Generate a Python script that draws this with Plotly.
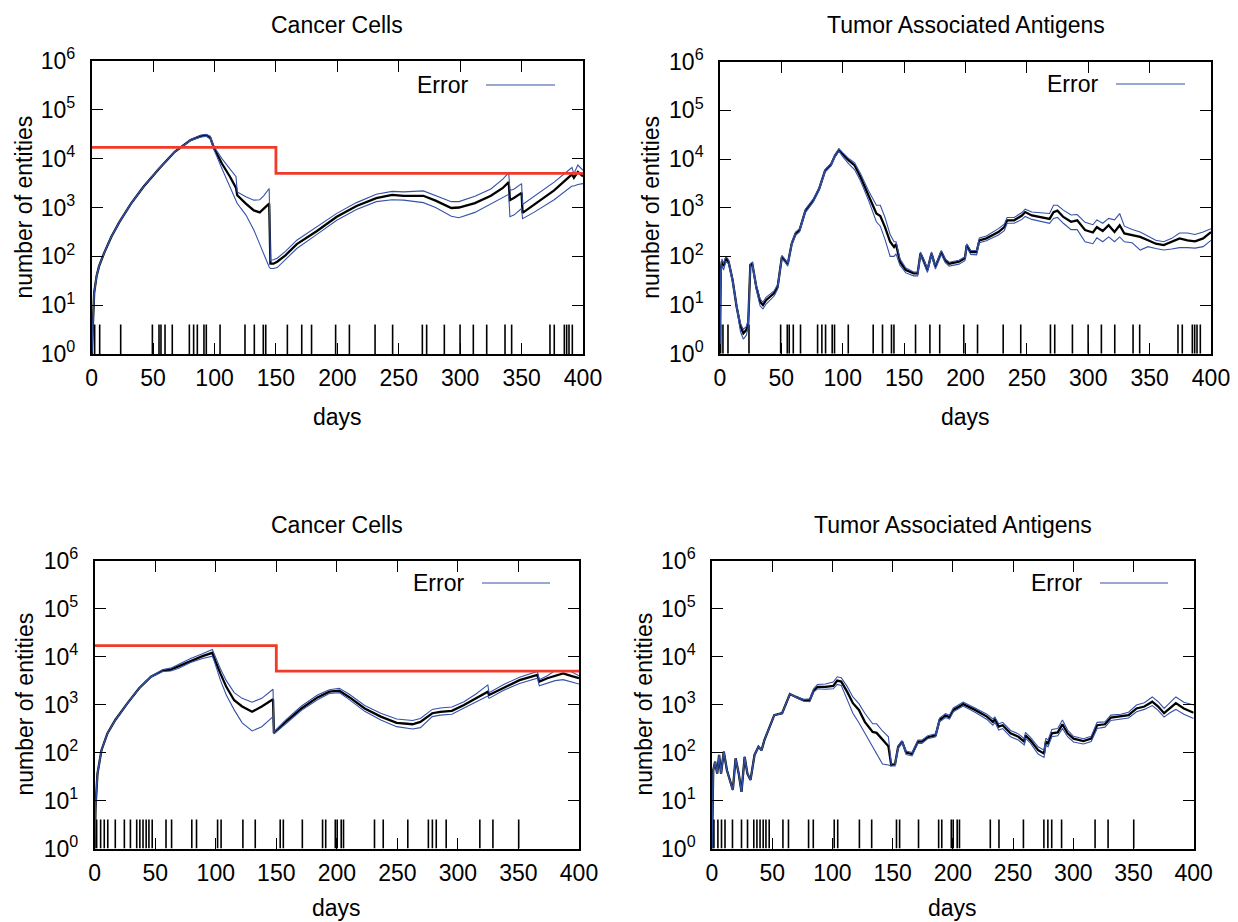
import plotly.graph_objects as go

W, H = 1238, 922
FONT = "Liberation Sans, Arial, sans-serif"
BLUE = "#3452a8"
RED = "#f03a2a"
BLACK = "#000000"

# ---------------- data (log10 of number of entities) ----------------
# Panel 1: Cancer Cells (top)
cc1_days = [0, 1, 2, 4, 6, 10, 16, 22.5, 32, 42, 55, 67.6, 80.5, 88.5, 93.3, 96.5, 99.8, 106, 112.6, 117.5,
            118.5, 125.5, 132, 136.8, 140, 144.5, 145.5, 148, 151, 157.7, 167, 183.4, 199.5, 215.6, 231.7,
            244.6, 254, 270, 280, 292.8, 299, 312, 325, 334.7, 339.5, 340.5, 344, 350, 350.8, 360, 376.5,
            391, 392.6, 395.8, 400]
cc1_mean = [0.0, 0.8, 1.25, 1.6, 1.8, 2.06, 2.4, 2.7, 3.08, 3.42, 3.8, 4.14, 4.38, 4.46, 4.48, 4.43, 4.2, 3.9,
            3.63, 3.4, 3.25, 3.08, 2.94, 2.9, 2.98, 3.08, 1.85, 1.85, 1.89, 2.02, 2.25, 2.52, 2.81, 3.03, 3.19,
            3.26, 3.24, 3.24, 3.14, 2.99, 3.0, 3.09, 3.24, 3.4, 3.52, 3.15, 3.2, 3.3, 2.89, 3.05, 3.35, 3.68,
            3.61, 3.73, 3.64]
cc1_upper = [0.0, 0.8, 1.25, 1.6, 1.8, 2.06, 2.4, 2.7, 3.08, 3.42, 3.8, 4.14, 4.39, 4.48, 4.5, 4.46, 4.24, 4.0,
             3.8, 3.63, 3.32, 3.22, 3.15, 3.16, 3.24, 3.39, 1.92, 1.93, 1.96, 2.1, 2.33, 2.6, 2.88, 3.1, 3.27,
             3.33, 3.32, 3.34, 3.25, 3.12, 3.12, 3.23, 3.38, 3.58, 3.71, 3.35, 3.38, 3.49, 3.06, 3.22, 3.52,
             3.82, 3.69, 3.87, 3.76]
cc1_lower = [0.0, 0.8, 1.25, 1.6, 1.8, 2.06, 2.4, 2.7, 3.08, 3.42, 3.8, 4.14, 4.37, 4.44, 4.46, 4.4, 4.17, 3.8,
             3.42, 3.15, 3.08, 2.85, 2.54, 2.25, 2.05, 1.78, 1.75, 1.75, 1.77, 1.93, 2.16, 2.45, 2.74, 2.96,
             3.12, 3.16, 3.15, 3.1, 3.0, 2.82, 2.79, 2.9, 3.07, 3.2, 3.27, 2.81, 2.85, 2.98, 2.77, 2.9, 3.16,
             3.44, 3.44, 3.47, 3.49]

# Panel 2: Tumor Associated Antigens (top)
taa1_days = [0, 0.6, 1.6, 2.9, 4.8, 7, 10.3, 13.5, 16.7, 19, 21.5, 23, 24.7, 26.3, 29.5, 32.7, 35, 37.5, 44,
             47, 50.4, 53, 55.2, 58.4, 61.6, 64.8, 69.6, 76, 80.8, 85.6, 90.5, 93.7, 96.9, 100, 104.9, 109.7,
             114.5, 121, 127.4, 130.6, 134.4, 138.6, 141.8, 143.4, 146.6, 151.4, 157.8, 161, 163.3, 165.8,
             169, 172.3, 175.5, 180.3, 183.5, 186.7, 194.7, 199.5, 201, 204.3, 209, 211.3, 217, 226.8, 231.6,
             233.9, 239.6, 246, 248.6, 254, 262, 268.5, 271.7, 274.9, 279.7, 286, 291, 297.4, 303.8, 307,
             311.8, 316.6, 321.4, 325.6, 329.4, 335.8, 342.3, 348.7, 355, 361.5, 368, 374.4, 380.8, 387,
             393.6, 400]
taa1_mean = [0.2, 1.72, 1.9, 1.8, 1.96, 1.89, 1.51, 0.97, 0.56, 0.42,
             0.49, 0.63, 1.82, 1.85, 1.38, 1.07, 1.0, 1.1, 1.24, 1.38,
             1.99, 1.92, 1.84, 2.26, 2.47, 2.54, 2.94, 3.15, 3.39, 3.76,
             3.89, 4.07, 4.19, 4.1, 3.97, 3.87, 3.63, 3.25, 2.88, 2.83,
             2.6, 2.3, 2.19, 2.25, 1.89, 1.72, 1.65, 1.65, 2.06, 1.92,
             1.72, 2.06, 1.79, 2.09, 1.92, 1.85, 1.89, 1.96, 2.23, 2.09,
             2.09, 2.33, 2.37, 2.5, 2.6, 2.74, 2.74, 2.84, 2.91, 2.84,
             2.81, 2.77, 2.91, 2.94, 2.81, 2.71, 2.74, 2.54, 2.49, 2.6,
             2.52, 2.64, 2.5, 2.64, 2.47, 2.43, 2.4, 2.33, 2.26, 2.23,
             2.3, 2.37, 2.33, 2.31, 2.37, 2.5]
taa1_upper = [0.2, 1.75, 1.95, 1.85, 2.0, 1.93, 1.55, 1.02, 0.62, 0.5,
              0.56, 0.7, 1.85, 1.88, 1.43, 1.12, 1.06, 1.16, 1.29, 1.42,
              2.02, 1.95, 1.87, 2.29, 2.5, 2.57, 2.97, 3.18, 3.42, 3.78,
              3.91, 4.09, 4.21, 4.13, 4.01, 3.92, 3.7, 3.35, 3.05, 3.05,
              2.8, 2.45, 2.3, 2.3, 1.95, 1.76, 1.68, 1.68, 2.09, 1.95,
              1.75, 2.09, 1.82, 2.12, 1.95, 1.88, 1.92, 1.99, 2.26, 2.12,
              2.12, 2.38, 2.42, 2.57, 2.66, 2.8, 2.8, 2.9, 2.97, 2.91,
              2.9, 2.88, 3.05, 3.05, 2.95, 2.85, 2.86, 2.7, 2.65, 2.75,
              2.68, 2.78, 2.75, 2.88, 2.62, 2.55, 2.5, 2.42, 2.33, 2.3,
              2.37, 2.48, 2.48, 2.45, 2.5, 2.57]
taa1_lower = [0.2, 1.6, 1.82, 1.72, 1.9, 1.84, 1.45, 0.9, 0.45, 0.3,
              0.38, 0.55, 1.78, 1.8, 1.32, 0.98, 0.92, 1.02, 1.18, 1.33,
              1.95, 1.88, 1.8, 2.22, 2.43, 2.5, 2.9, 3.12, 3.36, 3.73,
              3.86, 4.04, 4.16, 4.05, 3.9, 3.78, 3.55, 3.15, 2.71, 2.62,
              2.35, 2.0, 2.0, 2.05, 1.82, 1.66, 1.6, 1.6, 2.02, 1.87,
              1.67, 2.01, 1.74, 2.04, 1.87, 1.8, 1.84, 1.91, 2.18, 2.04,
              2.03, 2.28, 2.32, 2.44, 2.53, 2.68, 2.68, 2.76, 2.82, 2.76,
              2.72, 2.68, 2.78, 2.8, 2.68, 2.55, 2.55, 2.3, 2.26, 2.38,
              2.3, 2.4, 2.3, 2.4, 2.3, 2.28, 2.13, 2.2, 2.16, 2.13,
              2.15, 2.18, 2.18, 2.17, 2.2, 2.33]

# Panel 3: Cancer Cells (bottom)
cc2_days = [0, 0.7, 2.3, 5.6, 10.5, 17, 26.8, 36.7, 46.5, 56.3, 62.8, 69.4, 79.2, 89, 97.2, 98.8, 103.8, 108.7,
            115.2, 121.8, 130, 138, 147.3, 148, 157.8, 170.8, 184, 193.8, 202, 210, 223, 236.3, 249.4, 262.5,
            269, 278.8, 285.4, 295, 305, 314.9, 324.7, 325.7, 337.8, 350.9, 365.6, 367.2, 373.8, 380.3, 386.9,
            393.4, 400]
cc2_mean = [0.0, 0.87, 1.56, 2.05, 2.4, 2.68, 3.02, 3.34, 3.58, 3.71,
            3.73, 3.8, 3.92, 4.01, 4.08, 3.96, 3.65, 3.37, 3.09, 2.96,
            2.85, 2.96, 3.11, 2.41, 2.64, 2.92, 3.15, 3.27, 3.29, 3.16,
            2.92, 2.75, 2.62, 2.59, 2.64, 2.82, 2.85, 2.87, 2.99, 3.13,
            3.27, 3.2, 3.35, 3.51, 3.62, 3.48, 3.55, 3.6, 3.65, 3.6, 3.55]
cc2_upper = [0.0, 0.87, 1.56, 2.05, 2.4, 2.68, 3.02, 3.34, 3.59, 3.73,
             3.76, 3.84, 3.96, 4.06, 4.15, 4.05, 3.75, 3.5, 3.25, 3.13,
             3.05, 3.13, 3.32, 2.43, 2.68, 2.97, 3.2, 3.31, 3.34, 3.22,
             2.98, 2.82, 2.7, 2.67, 2.71, 2.9, 2.93, 2.95, 3.06, 3.22,
             3.41, 3.25, 3.42, 3.57, 3.69, 3.52, 3.6, 3.71, 3.7, 3.69, 3.6]
cc2_lower = [0.0, 0.87, 1.56, 2.05, 2.4, 2.68, 3.02, 3.34, 3.57, 3.69,
             3.7, 3.76, 3.88, 3.96, 4.01, 3.9, 3.51, 3.2, 2.89, 2.62,
             2.45, 2.54, 2.75, 2.39, 2.6, 2.88, 3.1, 3.23, 3.25, 3.11,
             2.86, 2.68, 2.54, 2.49, 2.52, 2.75, 2.78, 2.8, 2.93, 3.05,
             3.18, 3.13, 3.3, 3.44, 3.55, 3.39, 3.45, 3.5, 3.52, 3.48, 3.43]

# Panel 4: Tumor Associated Antigens (bottom)
taa2_days = [0, 1, 2.6, 4.3, 5.9, 7.5, 9.8, 12.4, 17.3, 19.6, 22.2, 24.5, 27.1, 29.4, 32, 35.3, 38.6, 41.2,
             43.5, 46.8, 51.7, 58.2, 61.5, 64.7, 69.7, 76.2, 81.1, 84.4, 87.6, 94.2, 100.7, 104, 107.3, 112.2,
             117, 122, 126.9, 133.4, 136.7, 141.6, 146.5, 148.8, 152, 154.6, 157.9, 161.2, 166.1, 171, 174.3,
             179.2, 185.7, 189, 193.9, 197.2, 200.4, 205.4, 208.6, 218.4, 228.3, 233.2, 234.9, 238.1, 241.4,
             247.9, 254.4, 259.3, 260.3, 264.3, 270.8, 275.7, 277.3, 279, 282.2, 287.1, 291, 295.3, 300.2,
             308.4, 314.9, 319.8, 326.3, 331.2, 339.4, 345.9, 352.5, 359, 365.6, 370.5, 375.4, 380.3, 385.2,
             391.8, 400]
taa2_mean = [0.0, 1.63, 1.81, 1.56, 1.95, 1.56, 2.02, 1.63, 1.22, 1.88,
             1.56, 1.18, 1.91, 1.56, 1.43, 1.95, 2.12, 2.05, 2.26, 2.47,
             2.78, 2.82, 3.03, 3.22, 3.16, 3.09, 3.09, 3.29, 3.37, 3.37,
             3.39, 3.5, 3.48, 3.27, 3.03, 2.89, 2.64, 2.43, 2.41, 2.26,
             2.13, 1.74, 1.76, 2.12, 2.23, 2.0, 1.97, 2.23, 2.23, 2.32,
             2.36, 2.68, 2.77, 2.74, 2.89, 2.96, 3.01, 2.89, 2.75, 2.64,
             2.69, 2.54, 2.57, 2.4, 2.33, 2.23, 2.36, 2.26, 2.05, 1.98,
             2.23, 2.19, 2.4, 2.42, 2.59, 2.4, 2.29, 2.24, 2.29, 2.57,
             2.59, 2.73, 2.75, 2.78, 2.92, 2.96, 3.06, 2.96, 2.82, 2.92,
             3.03, 2.92, 2.83]
taa2_upper = [0.0, 1.63, 1.81, 1.56, 1.95, 1.56, 2.02, 1.63, 1.22, 1.88,
              1.56, 1.18, 1.91, 1.56, 1.43, 1.95, 2.12, 2.05, 2.26, 2.47,
              2.78, 2.82, 3.03, 3.22, 3.17, 3.11, 3.12, 3.33, 3.42, 3.43,
              3.47, 3.58, 3.56, 3.38, 3.16, 3.02, 2.82, 2.6, 2.6, 2.45,
              2.33, 1.76, 1.78, 2.14, 2.25, 2.03, 2.0, 2.26, 2.26, 2.35,
              2.39, 2.72, 2.81, 2.78, 2.93, 3.0, 3.05, 2.93, 2.8, 2.7,
              2.74, 2.6, 2.63, 2.46, 2.39, 2.29, 2.42, 2.32, 2.12, 2.05,
              2.3, 2.26, 2.48, 2.5, 2.68, 2.47, 2.34, 2.29, 2.34, 2.63,
              2.64, 2.78, 2.8, 2.84, 2.99, 3.04, 3.16, 3.06, 2.92, 3.04,
              3.16, 3.05, 2.99]
taa2_lower = [0.0, 1.63, 1.81, 1.56, 1.95, 1.56, 2.02, 1.63, 1.22, 1.88,
              1.56, 1.18, 1.91, 1.56, 1.43, 1.95, 2.12, 2.05, 2.26, 2.47,
              2.78, 2.82, 3.03, 3.22, 3.15, 3.07, 3.06, 3.26, 3.33, 3.32,
              3.33, 3.42, 3.4, 3.12, 2.82, 2.62, 2.4, 2.1, 1.95, 1.76,
              1.74, 1.72, 1.72, 2.08, 2.2, 1.96, 1.93, 2.19, 2.19, 2.29,
              2.33, 2.64, 2.73, 2.7, 2.85, 2.92, 2.97, 2.84, 2.69, 2.57,
              2.63, 2.47, 2.5, 2.33, 2.26, 2.16, 2.3, 2.2, 1.97, 1.9,
              2.16, 2.12, 2.33, 2.35, 2.5, 2.33, 2.22, 2.18, 2.23, 2.5,
              2.53, 2.67, 2.69, 2.72, 2.85, 2.9, 2.98, 2.88, 2.74, 2.83,
              2.9, 2.8, 2.71]

# Threshold (red step) for cancer-cell panels
thr_days = [0, 150, 400]
thr_vals = [17000, 5000, 5000]

# Vaccination days (impulses)
vacc_top = [0.5, 2.4, 6.5, 23.6, 49.4, 54.8, 56.4, 59.7, 65.6, 79.5, 83, 86, 91.4, 93.3, 104.5, 124.8, 132.4,
            139.7, 141.7, 159.3, 171, 179, 198.6, 209.8, 230.7, 245, 269.2, 272.7, 287.1, 299.9, 310.7, 321.6,
            336.5, 341.9, 373.1, 376.6, 384.8, 386.7, 388.6, 391.3]
vacc_bottom = [1.6, 4.9, 7.9, 10.8, 17, 24.5, 29.5, 34.7, 37.3, 39.9, 42.5, 44.8, 47.5, 58.9, 63.5, 80.2, 84.1,
               101.5, 104.4, 122.4, 132.6, 153.2, 155.8, 171.5, 188.2, 190.8, 198.7, 200.3, 203.6, 205.5, 231.1,
               238.3, 258.6, 275.6, 278.9, 282.1, 290.3, 318.1, 328.9, 350.2]
vacc_height = 4

titles = ["Cancer Cells", "Tumor Associated Antigens", "Cancer Cells", "Tumor Associated Antigens"]
x_ticks = [0, 50, 100, 150, 200, 250, 300, 350, 400]
y_tickvals = [1, 10, 100, 1000, 10000, 100000, 1000000]
y_ticktext = ["10<sup>%d</sup>" % i for i in range(7)]

# ---------------- layout geometry (pixels) ----------------
panels = [
    dict(x0=91.7, x1=583.0, y0=61.0, y1=354.0, ytitle_x=23, xtitle_y=417, title_y=25,
         leg_text_x=470, leg_x0=486, leg_x1=555, leg_y=85,
         days=cc1_days, mean=cc1_mean, up=cc1_upper, lo=cc1_lower, thr=True, vacc=vacc_top),
    dict(x0=720.0, x1=1211.0, y0=61.7, y1=353.7, ytitle_x=651, xtitle_y=417, title_y=25,
         leg_text_x=1100, leg_x0=1116, leg_x1=1185, leg_y=84,
         days=taa1_days, mean=taa1_mean, up=taa1_upper, lo=taa1_lower, thr=False, vacc=vacc_top),
    dict(x0=94.7, x1=579.0, y0=560.7, y1=848.5, ytitle_x=25, xtitle_y=908, title_y=525,
         leg_text_x=466, leg_x0=482, leg_x1=550, leg_y=583,
         days=cc2_days, mean=cc2_mean, up=cc2_upper, lo=cc2_lower, thr=True, vacc=vacc_bottom),
    dict(x0=712.0, x1=1193.7, y0=560.7, y1=848.5, ytitle_x=644, xtitle_y=908, title_y=525,
         leg_text_x=1084, leg_x0=1100, leg_x1=1168, leg_y=583,
         days=taa2_days, mean=taa2_mean, up=taa2_upper, lo=taa2_lower, thr=False, vacc=vacc_bottom),
]


def fx(x):
    return x / W


def fy(y):
    return 1 - y / H


fig = go.Figure()
annotations = []
shapes = []
layout_axes = {}

for i, p in enumerate(panels):
    n = i + 1
    xa = "x" if n == 1 else "x%d" % n
    ya = "y" if n == 1 else "y%d" % n
    xkey = "xaxis" if n == 1 else "xaxis%d" % n
    ykey = "yaxis" if n == 1 else "yaxis%d" % n

    # vaccination impulses
    vx, vy = [], []
    for t in p["vacc"]:
        vx += [t, t, None]
        vy += [1, vacc_height, None]
    fig.add_trace(go.Scatter(x=vx, y=vy, mode="lines", line=dict(color=BLACK, width=1.6),
                             xaxis=xa, yaxis=ya, showlegend=False, hoverinfo="skip"))
    # mean
    fig.add_trace(go.Scatter(x=p["days"], y=[10 ** v for v in p["mean"]], mode="lines",
                             line=dict(color=BLACK, width=2.3), xaxis=xa, yaxis=ya, showlegend=False))
    # error bounds
    fig.add_trace(go.Scatter(x=p["days"], y=[10 ** v for v in p["up"]], mode="lines",
                             line=dict(color=BLUE, width=1.1), xaxis=xa, yaxis=ya, showlegend=False))
    fig.add_trace(go.Scatter(x=p["days"], y=[10 ** v for v in p["lo"]], mode="lines",
                             line=dict(color=BLUE, width=1.1), xaxis=xa, yaxis=ya, showlegend=False))
    if p["thr"]:
        fig.add_trace(go.Scatter(x=thr_days, y=thr_vals, mode="lines", line=dict(color=RED, width=2.8, shape="hv"),
                                 xaxis=xa, yaxis=ya, showlegend=False))

    common = dict(showgrid=False, zeroline=False, showline=True, linecolor=BLACK, linewidth=1.6,
                  mirror="allticks", ticks="inside", ticklen=11, tickwidth=1.4, tickcolor=BLACK,
                  automargin=False, tickfont=dict(family=FONT, size=23, color=BLACK))
    layout_axes[xkey] = dict(common, domain=[fx(p["x0"]), fx(p["x1"])], anchor=ya, range=[0, 400],
                             tickvals=x_ticks, ticklabelstandoff=3)
    layout_axes[ykey] = dict(common, domain=[fy(p["y1"]), fy(p["y0"])], anchor=xa, type="log",
                             range=[0, 6], tickvals=y_tickvals, ticktext=y_ticktext, ticklabelstandoff=10)

    cx = (p["x0"] + p["x1"]) / 2
    cy = (p["y0"] + p["y1"]) / 2
    annotations.append(dict(text=titles[i], x=fx(cx), y=fy(p["title_y"]), xref="paper", yref="paper",
                            showarrow=False, xanchor="center", yanchor="middle",
                            font=dict(family=FONT, size=23, color=BLACK)))
    annotations.append(dict(text="days", x=fx(cx), y=fy(p["xtitle_y"]), xref="paper", yref="paper",
                            showarrow=False, xanchor="center", yanchor="middle",
                            font=dict(family=FONT, size=23, color=BLACK)))
    annotations.append(dict(text="number of entities", x=fx(p["ytitle_x"]), y=fy(cy), xref="paper",
                            yref="paper", showarrow=False, textangle=-90, xanchor="center", yanchor="middle",
                            font=dict(family=FONT, size=23, color=BLACK)))
    annotations.append(dict(text="Error", x=fx(p["leg_text_x"]), y=fy(p["leg_y"]), xref="paper", yref="paper",
                            showarrow=False, xanchor="right", yanchor="middle",
                            font=dict(family=FONT, size=23, color=BLACK)))
    shapes.append(dict(type="line", xref="paper", yref="paper", x0=fx(p["leg_x0"]), x1=fx(p["leg_x1"]),
                       y0=fy(p["leg_y"]), y1=fy(p["leg_y"]), line=dict(color=BLUE, width=1.1)))

fig.update_layout(template="none", width=W, height=H, autosize=False,
                  margin=dict(l=0, r=0, t=0, b=0, pad=0, autoexpand=False),
                  paper_bgcolor="white", plot_bgcolor="white", showlegend=False,
                  annotations=annotations, shapes=shapes, **layout_axes)

fig.write_html("out.html", config={"displayModeBar": False, "responsive": False},
               post_script="document.body.style.margin='0px';document.body.style.padding='0px';"
                           "document.body.style.overflow='hidden';")
